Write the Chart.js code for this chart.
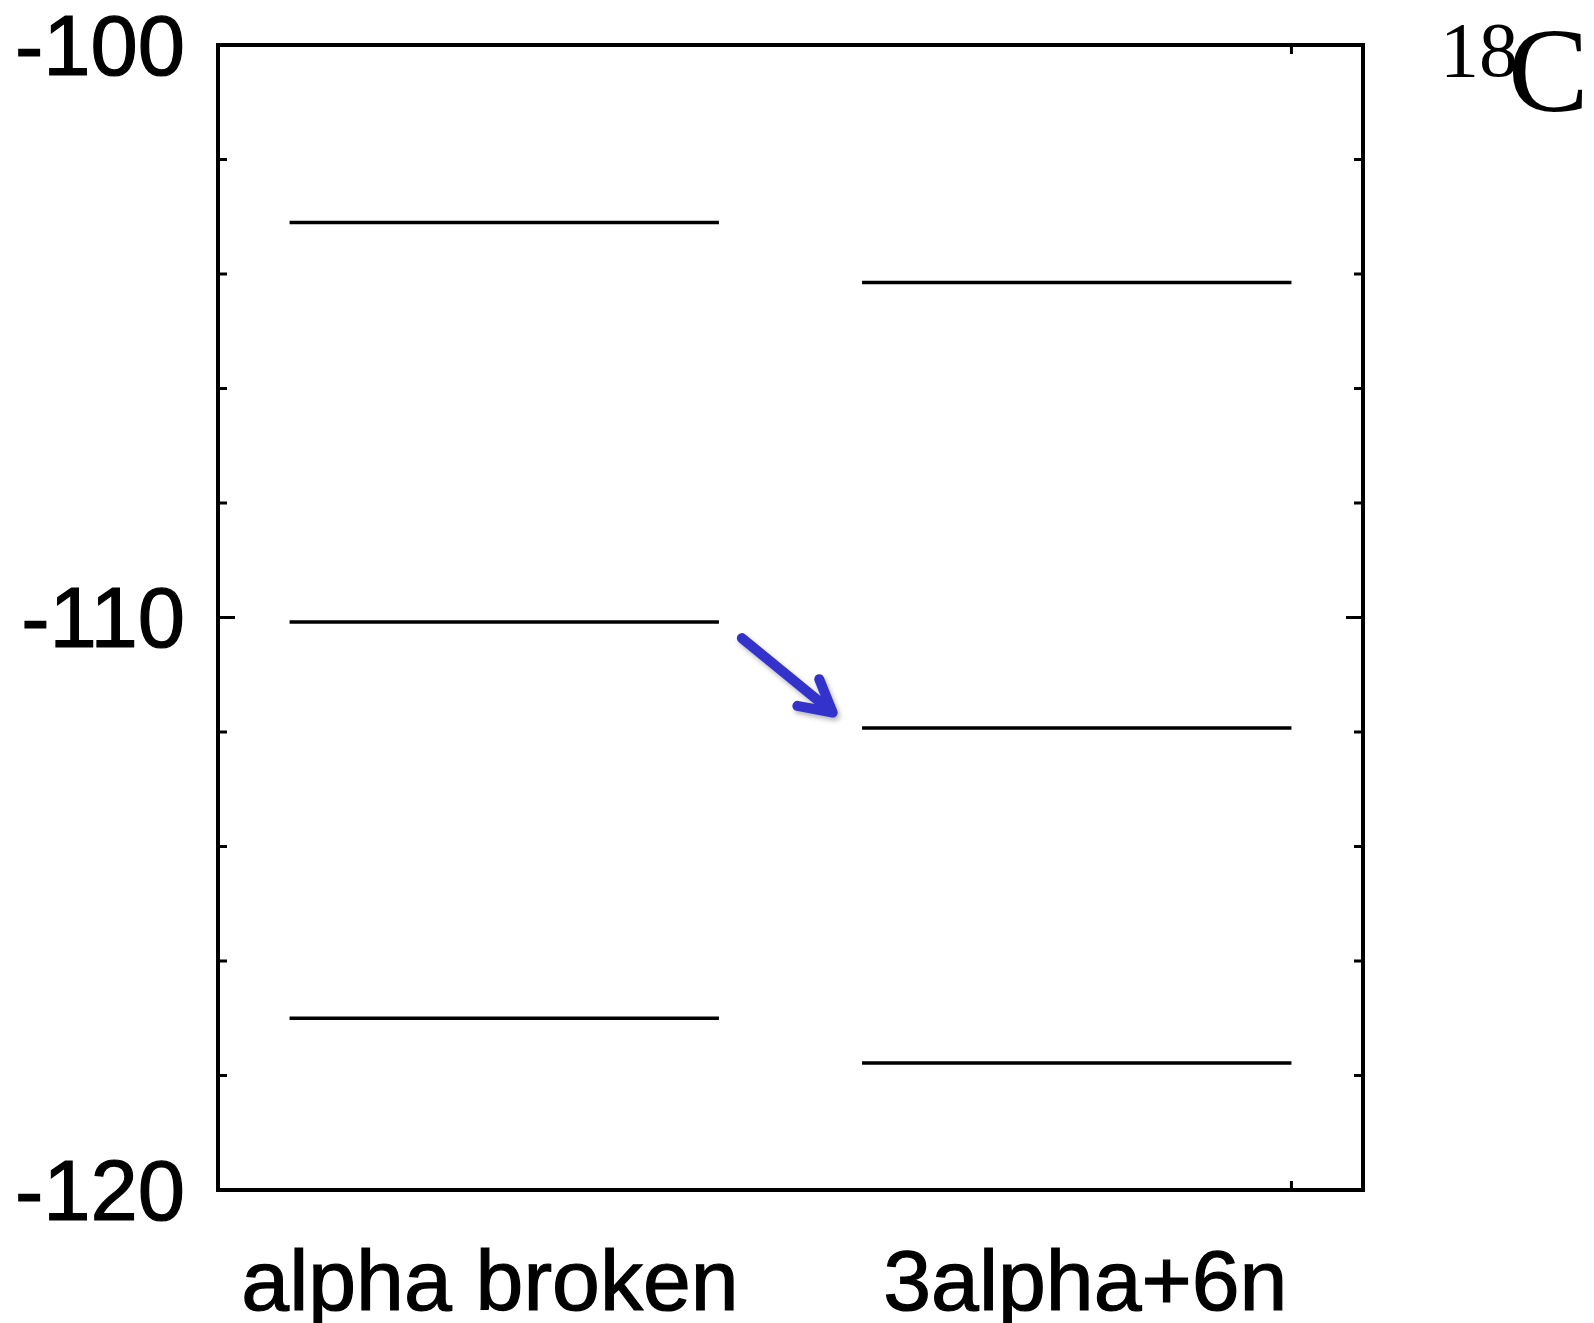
<!DOCTYPE html>
<html>
<head>
    <script src="https://cdn.jsdelivr.net/npm/chart.js"></script>
    <style>
        body { margin: 0; background: #fff; }
        #wrap { width: 1594px; height: 1323px; position: relative; }
    </style>
</head>
<body>

    <div id="wrap">
        <canvas id="levelChart"></canvas>
    </div>

    <script>
        // level schemes, MeV
        const categories = ['alpha broken', '3alpha+6n'];
        const alphaBroken = [-103.1, -110.08, -117.0];
        const threeAlpha6n = [-104.15, -111.93, -117.78];
        const yTicks = [-120, -110, -100];
        const labelPos = [1.9, 6.06];
        const arrowFrom = [3.66, -110.36];
        const arrowTo = [4.295, -111.66];
        const frameXTicks = [7.5];

        const levels = [alphaBroken, threeAlpha6n];

        const datasets = [];
        levels.forEach(function (lv, i) {
            lv.forEach(function (e) {
                datasets.push({
                    data: [{ x: i * 4 + 0.5, y: e }, { x: i * 4 + 3.5, y: e }],
                    borderColor: '#000',
                    borderWidth: 3.5,
                    pointRadius: 0,
                    fill: false
                });
            });
        });

        const decor = {
            id: 'decor',
            afterDraw(chart) {
                const ctx = chart.ctx;
                const a = chart.chartArea;
                const xs = chart.scales.x, ys = chart.scales.y;
                ctx.save();
                ctx.strokeStyle = '#000';

                // inner ticks
                ctx.lineWidth = 3;
                ys.ticks.forEach(function (t) {
                    const py = ys.getPixelForValue(t.value);
                    const len = (t.value % 10 === 0) ? 17 : 9;
                    ctx.beginPath();
                    ctx.moveTo(a.left, py); ctx.lineTo(a.left + len, py);
                    ctx.moveTo(a.right, py); ctx.lineTo(a.right - len, py);
                    ctx.stroke();
                });
                frameXTicks.forEach(function (v) {
                    const px = xs.getPixelForValue(v);
                    ctx.beginPath();
                    ctx.moveTo(px, a.top); ctx.lineTo(px, a.top + 9);
                    ctx.moveTo(px, a.bottom); ctx.lineTo(px, a.bottom - 9);
                    ctx.stroke();
                });

                // frame
                ctx.lineWidth = 4;
                ctx.strokeRect(a.left, a.top, a.right - a.left, a.bottom - a.top);

                // arrow
                const x0 = xs.getPixelForValue(arrowFrom[0]), y0 = ys.getPixelForValue(arrowFrom[1]);
                const x1 = xs.getPixelForValue(arrowTo[0]), y1 = ys.getPixelForValue(arrowTo[1]);
                const ang = Math.atan2(y1 - y0, x1 - x0);
                const hl = 36, hw = 0.5;
                ctx.shadowColor = 'rgba(0,0,0,0.3)';
                ctx.shadowBlur = 5;
                ctx.shadowOffsetX = 2;
                ctx.shadowOffsetY = 3;
                ctx.strokeStyle = '#3333cc';
                ctx.fillStyle = '#3333cc';
                ctx.lineWidth = 10;
                ctx.lineCap = 'round';
                ctx.lineJoin = 'round';
                ctx.beginPath();
                ctx.moveTo(x0, y0);
                ctx.lineTo(x1 - 8 * Math.cos(ang), y1 - 8 * Math.sin(ang));
                ctx.moveTo(x1 - hl * Math.cos(ang - hw), y1 - hl * Math.sin(ang - hw));
                ctx.lineTo(x1, y1);
                ctx.lineTo(x1 - hl * Math.cos(ang + hw), y1 - hl * Math.sin(ang + hw));
                ctx.stroke();
                ctx.restore();

                // nucleus label
                ctx.save();
                ctx.fillStyle = '#000';
                ctx.textBaseline = 'alphabetic';
                ctx.font = '78px "Liberation Serif", "Times New Roman", serif';
                ctx.fillText('18', 1440, 76);
                ctx.font = '121px "Liberation Serif", "Times New Roman", serif';
                ctx.fillText('C', 1508, 111);
                ctx.restore();
            }
        };

        const config = {
            type: 'line',
            data: { datasets: datasets },
            options: {
                responsive: true,
                maintainAspectRatio: false,
                animation: false,
                layout: { padding: { left: 0, top: 45, right: 231, bottom: 0 } },
                plugins: { legend: { display: false }, tooltip: { enabled: false } },
                scales: {
                    x: {
                        type: 'linear',
                        min: 0,
                        max: 8,
                        grid: { display: false, drawTicks: false },
                        border: { display: false },
                        afterBuildTicks: function (scale) {
                            scale.ticks = labelPos.map(function (v) { return { value: v }; });
                        },
                        afterFit: function (scale) {
                            scale.height = 133;
                            scale.paddingLeft = 0;
                            scale.paddingRight = 0;
                        },
                        ticks: {
                            autoSkip: false,
                            maxRotation: 0,
                            padding: 45,
                            color: '#000',
                            textStrokeColor: '#000',
                            textStrokeWidth: 1.2,
                            font: { family: '"Liberation Sans", Arial, sans-serif', size: 86 },
                            callback: function (v, i) { return categories[i]; }
                        }
                    },
                    y: {
                        min: yTicks[0],
                        max: yTicks[yTicks.length - 1],
                        grid: { display: false, drawTicks: false },
                        border: { display: false },
                        afterFit: function (scale) {
                            scale.width = 218;
                            scale.paddingTop = 0;
                            scale.paddingBottom = 0;
                        },
                        ticks: {
                            stepSize: 2,
                            autoSkip: false,
                            padding: 33,
                            color: '#000',
                            textStrokeColor: '#000',
                            textStrokeWidth: 1.2,
                            // blank first line nudges the label down a few px
                            font: { family: '"Liberation Sans", Arial, sans-serif', size: 85, lineHeight: '13px' },
                            callback: function (v) { return yTicks.indexOf(v) >= 0 ? ['', String(v)] : ''; }
                        }
                    }
                }
            },
            plugins: [decor]
        };

        new Chart(document.getElementById('levelChart'), config);
    </script>

</body>
</html>
